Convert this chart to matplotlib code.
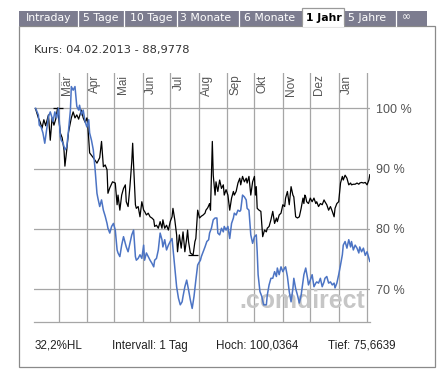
import matplotlib
matplotlib.use('Agg')
import matplotlib.pyplot as plt
import matplotlib.dates as mdates
import matplotlib.transforms as mtrans
from matplotlib.patches import Rectangle
import pandas as pd

# ---------------- data ----------------
start_date = pd.Timestamp('2012-02-04')

black_days = [1, 4, 6, 8, 10, 12, 15, 17, 19, 21, 23, 25, 28, 30, 32, 33, 35, 37, 40, 42,
              44, 46, 48, 51, 53, 55, 57, 58, 60, 64, 68, 71, 73, 75, 77, 79, 80, 82, 85, 88,
              90, 91, 93, 95, 97, 99, 100, 102, 104, 106, 107, 108, 110, 111, 113, 115, 117, 119, 120, 122,
              124, 126, 128, 130, 131, 133, 135, 137, 139, 140, 142, 144, 146, 148, 150, 151, 153, 155, 156, 158,
              160, 162, 164, 166, 167, 168, 170, 173, 175, 176, 178, 180, 182, 184, 186, 187, 189, 191, 192, 194,
              195, 197, 198, 200, 202, 204, 206, 207, 209, 211, 213, 215, 217, 218, 220, 222, 224, 225, 227, 229,
              231, 232, 234, 236, 238, 240, 241, 242, 243, 245, 247, 249, 251, 253, 254, 256, 258, 260, 262, 264,
              265, 267, 269, 271, 273, 274, 276, 278, 280, 282, 283, 285, 287, 289, 291, 293, 294, 295, 296, 297,
              299, 301, 303, 305, 307, 308, 310, 312, 314, 316, 317, 319, 321, 323, 325, 327, 328, 330, 332, 334,
              336, 337, 339, 341, 343, 345, 346, 348, 350, 352, 354, 355, 357, 359, 361, 363, 365, 366]
black_vals = [99.9, 98.4, 97.7, 96.7, 98.1, 97.1, 98.9, 94.7, 98.4, 97.2, 98.2, 100.04, 95.9, 95.1, 93.1, 90.4, 93.1, 96.1, 98.4, 99.4,
              98.4, 98.9, 98.2, 99.7, 98.4, 97.7, 98.4, 97.2, 92.6, 91.8, 90.9, 91.8, 94.5, 90.3, 90.6, 89.8, 85.9, 86.8, 87.8, 87.6,
              84.0, 85.6, 83.1, 85.6, 86.7, 87.3, 84.5, 83.7, 87.0, 91.1, 94.2, 90.6, 84.0, 83.4, 83.7, 82.0, 84.5, 83.1, 82.9, 82.3,
              82.6, 82.0, 81.8, 81.5, 80.4, 80.6, 80.1, 81.2, 80.1, 81.5, 80.1, 80.6, 79.8, 81.2, 82.0, 83.4, 81.5, 79.0, 76.2, 79.0,
              76.8, 79.5, 76.2, 78.4, 79.8, 77.9, 76.0, 75.66, 77.9, 78.4, 83.1, 81.8, 82.1, 82.3, 82.6, 83.1, 83.5, 84.2, 83.1, 94.5,
              88.9, 85.6, 87.8, 86.2, 88.1, 86.7, 87.3, 85.6, 86.5, 85.6, 83.1, 85.1, 86.2, 85.6, 86.2, 87.6, 88.4, 87.3, 88.7, 87.8,
              88.4, 87.6, 88.7, 85.6, 87.8, 88.7, 85.6, 87.0, 83.4, 83.1, 82.9, 78.7, 79.8, 79.5, 80.1, 80.4, 81.5, 82.9, 80.9, 81.8,
              81.2, 82.3, 82.6, 84.0, 83.7, 85.1, 86.2, 84.0, 87.0, 85.6, 85.3, 82.0, 81.8, 82.0, 83.4, 85.1, 84.2, 85.6, 85.3, 84.5,
              84.2, 85.1, 84.5, 85.1, 84.2, 84.5, 83.7, 84.2, 84.0, 84.8, 84.5, 84.0, 83.1, 83.7, 82.9, 82.0, 83.4, 84.2, 84.5, 87.6,
              88.7, 88.1, 88.9, 88.4, 87.3, 87.6, 87.3, 87.4, 87.4, 87.6, 87.4, 87.6, 87.7, 87.6, 87.7, 87.3, 88.1, 88.98]

blue_days = [1, 4, 5, 7, 9, 11, 13, 15, 17, 19, 20, 22, 24, 26, 28, 29, 31, 33, 35, 37,
             39, 40, 42, 44, 46, 48, 49, 51, 53, 55, 57, 59, 60, 62, 64, 66, 68, 69, 71, 73,
             75, 77, 79, 80, 82, 84, 86, 88, 90, 91, 93, 95, 97, 99, 100, 102, 104, 106, 108, 110,
             111, 113, 115, 117, 119, 120, 122, 124, 126, 128, 130, 131, 133, 135, 137, 139, 140, 142, 144, 146,
             148, 150, 151, 153, 155, 157, 159, 161, 162, 164, 166, 168, 170, 172, 174, 176, 178, 179, 181, 182,
             184, 186, 188, 190, 191, 193, 195, 197, 199, 200, 202, 204, 206, 207, 209, 211, 213, 215, 217, 218,
             220, 222, 224, 225, 227, 229, 231, 232, 234, 236, 238, 240, 242, 243, 244, 246, 248, 250, 253, 254,
             256, 258, 260, 262, 264, 265, 267, 269, 271, 273, 274, 276, 278, 280, 282, 283, 285, 287, 289, 291,
             293, 294, 296, 298, 299, 301, 303, 305, 307, 308, 310, 312, 314, 316, 317, 319, 321, 323, 325, 327,
             328, 330, 332, 334, 336, 337, 339, 341, 343, 345, 346, 348, 350, 352, 354, 355, 357, 359, 361, 363,
             365, 366]
blue_vals = [100.0, 98.9, 97.2, 96.9, 95.9, 94.2, 96.4, 98.6, 99.4, 98.4, 97.8, 99.4, 98.4, 100.0, 95.3, 94.7, 94.2, 93.1, 93.6, 96.4,
             99.7, 103.6, 103.0, 103.6, 100.3, 99.7, 100.5, 98.9, 99.7, 97.8, 96.9, 98.1, 95.9, 94.7, 93.1, 89.8, 85.9, 85.1, 83.7, 84.8,
             83.1, 82.1, 80.9, 80.1, 79.3, 80.4, 80.9, 79.8, 76.5, 76.0, 75.4, 77.3, 78.7, 77.6, 77.0, 76.2, 77.6, 79.0, 79.8, 75.4,
             74.8, 75.1, 75.7, 75.1, 77.3, 74.8, 76.0, 75.4, 74.8, 74.3, 73.7, 74.8, 75.1, 76.5, 79.3, 78.2, 77.0, 78.2, 76.5, 77.3,
             77.9, 78.4, 76.8, 73.7, 70.4, 68.5, 67.4, 67.9, 68.8, 70.4, 71.5, 69.9, 68.2, 66.8, 68.8, 71.5, 74.0, 74.3, 74.8, 75.4,
             76.2, 77.0, 77.9, 78.2, 79.3, 80.1, 81.5, 81.8, 81.8, 79.3, 79.0, 80.1, 79.5, 80.4, 79.8, 80.4, 78.4, 80.9, 81.8, 82.6,
             82.3, 83.1, 82.9, 83.1, 85.6, 85.3, 84.8, 83.4, 83.1, 79.0, 77.6, 78.7, 79.0, 76.2, 72.4, 69.6, 68.8, 67.4, 67.4, 69.0,
             70.7, 71.8, 71.8, 72.9, 72.1, 73.5, 72.4, 73.7, 72.9, 73.5, 73.7, 72.1, 69.6, 67.9, 70.1, 71.8, 70.1, 69.0, 67.7, 69.0,
             71.2, 72.4, 73.5, 71.8, 70.7, 71.5, 72.4, 70.4, 71.0, 71.2, 71.0, 71.8, 70.4, 71.2, 71.8, 72.1, 71.0, 71.2, 70.7, 71.0,
             70.2, 71.0, 72.4, 74.0, 75.7, 77.3, 77.9, 76.8, 78.2, 77.0, 77.9, 76.5, 77.3, 76.8, 76.0, 77.0, 76.2, 76.8, 75.6, 76.2,
             75.1, 74.6]

month_starts = ['2012-03-01', '2012-04-01', '2012-05-01', '2012-06-01', '2012-07-01', '2012-08-01',
                '2012-09-01', '2012-10-01', '2012-11-01', '2012-12-01', '2013-01-01', '2013-02-01']
month_labels = ['Mär', 'Apr', 'Mai', 'Jun', 'Jul', 'Aug', 'Sep', 'Okt', 'Nov', 'Dez', 'Jan', '']

y_ticks = [70, 80, 90, 100]
y_tick_labels = ['70 %', '80 %', '90 %', '100 %']

tab_labels = ['Intraday', '5 Tage', '10 Tage', '3 Monate', '6 Monate', '1 Jahr', '5 Jahre', '∞']
active_tab = '1 Jahr'
header_text = 'Kurs: 04.02.2013 - 88,9778'
footer_texts = ['32,2%HL', 'Intervall: 1 Tag', 'Hoch: 100,0364', 'Tief: 75,6639']
watermark = '.comdirect'

# ---------------- figure ----------------
W, H = 444, 377
fig = plt.figure(figsize=(W / 100, H / 100), dpi=100)
fig.patch.set_facecolor('white')

# overlay in pixel coordinates for the frame / tabs / texts
ov = fig.add_axes([0, 0, 1, 1], zorder=0)
ov.set_xlim(0, W)
ov.set_ylim(H, 0)
ov.axis('off')

tab_bg = '#7c7c8f'
ov.add_patch(Rectangle((19.3, 11), 407.4, 14.5, facecolor=tab_bg, edgecolor='none'))
# panel border
ov.add_patch(Rectangle((19.3, 25.5), 415.7, 341.5, facecolor='none', edgecolor='#8a8a8a', lw=0.9))
# active tab
ov.add_patch(Rectangle((302, 8), 42.3, 17.5, facecolor='white', edgecolor='#9a9a9a', lw=0.9))
ov.plot([302.5, 343.8], [25.5, 25.5], color='white', lw=1.4, solid_capstyle='butt')

tab_x = [26, 82.7, 130, 180, 244.3, 306, 348.3, 401.7]
for x in [78.3, 124, 177.3, 238.7, 396]:
    ov.plot([x, x], [11, 25.5], color='white', lw=0.9)
for lab, x in zip(tab_labels, tab_x):
    if lab == active_tab:
        ov.text(x, 17.6, lab, color='black', fontsize=7.8, fontweight='bold',
                family='DejaVu Sans', ha='left', va='center')
    else:
        ov.text(x, 17.6, lab, color='white', fontsize=7.8,
                family='DejaVu Sans', ha='left', va='center')

ov.text(34, 50, header_text, color='#333333', fontsize=8.2, family='DejaVu Sans',
        ha='left', va='center')

for lab, x in zip(footer_texts, [35, 112, 216, 328]):
    ov.text(x, 346, lab, color='#222222', fontsize=8.4, family='Liberation Sans',
            ha='left', va='center')

# ---------------- chart axes ----------------
ax = fig.add_axes([34 / W, (H - 321.7) / H, 336 / W, 248.7 / H], zorder=1)
ax.patch.set_alpha(0)

x0 = mdates.date2num(start_date)
ax.set_xlim(x0 - 0.76, x0 + 366.2)
ax.set_ylim(64.6, 105.85)

grid_c = '#a6a6a6'
for m in month_starts:
    ax.axvline(mdates.date2num(pd.Timestamp(m)), color=grid_c, lw=0.9, zorder=1)
for v in y_ticks:
    ax.axhline(v, color=grid_c, lw=0.9, zorder=1)

for sp in ['top', 'left', 'right']:
    ax.spines[sp].set_visible(False)
ax.spines['bottom'].set_color(grid_c)
ax.spines['bottom'].set_linewidth(0.9)

ax.set_xticks([])
ax.yaxis.tick_right()
ax.set_yticks(y_ticks)
ax.set_yticklabels(y_tick_labels)
ax.tick_params(axis='y', length=0, pad=4.5, labelsize=9, labelcolor='#555555')
for t in ax.get_yticklabels():
    t.set_family('Liberation Sans')

# month labels (rotated, inside the top of the plot, right of grid line)
lab_tr = ax.get_xaxis_transform() + mtrans.ScaledTranslation(2.5 / 100, -1.5 / 100, fig.dpi_scale_trans)
for m, lab in zip(month_starts, month_labels):
    if lab:
        ax.text(mdates.date2num(pd.Timestamp(m)), 1.0, lab, rotation=90, transform=lab_tr,
                ha='left', va='top', fontsize=8.5, color='#555555', family='Liberation Sans')

# watermark
ax.text(0.610, 0.055, watermark, transform=ax.transAxes, fontsize=17.9, fontweight='bold',
        family='Liberation Sans', color='#c6c6c6', ha='left', va='baseline', zorder=1.5)

black_dates = [x0 + d for d in black_days]
blue_dates = [x0 + d for d in blue_days]
ax.plot(black_dates, black_vals, color='black', lw=0.9, zorder=3)
ax.plot(blue_dates, blue_vals, color='#4c74c4', lw=1.1, zorder=4)

# high / low markers of the black series
i_hi = max(range(len(black_vals)), key=lambda i: black_vals[i])
i_lo = min(range(len(black_vals)), key=lambda i: black_vals[i])
for i in (i_hi, i_lo):
    ax.hlines(black_vals[i], black_dates[i] - 5.5, black_dates[i] + 5.5, color='black', lw=0.9, zorder=3)

fig.savefig('out.png', dpi=100, facecolor='white')
